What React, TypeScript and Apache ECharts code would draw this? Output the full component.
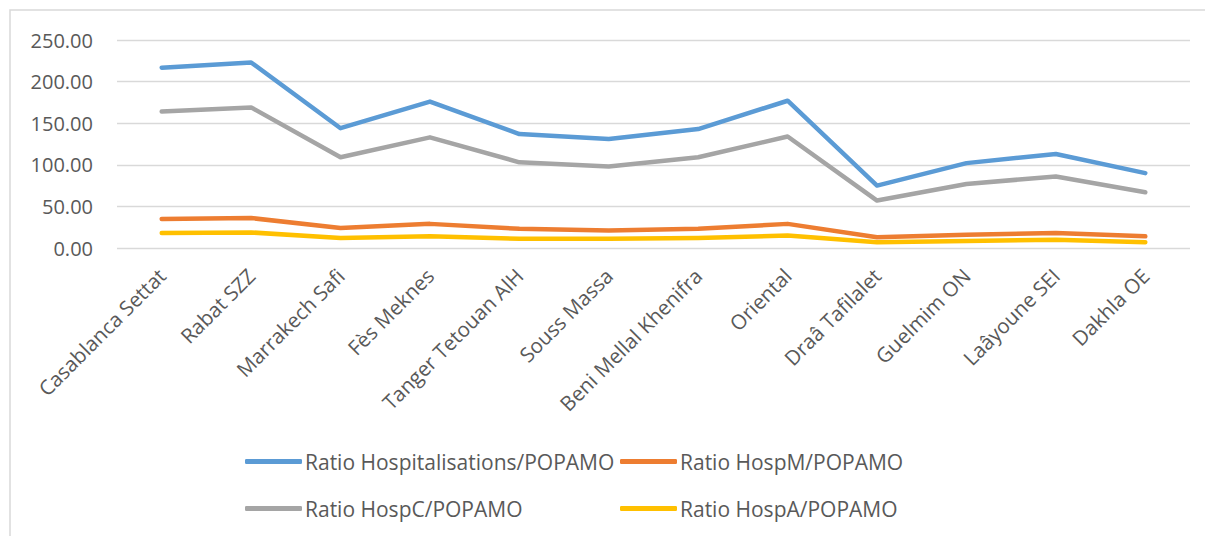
import React, { useEffect, useRef } from "react";
import * as echarts from "echarts";

const categories = [
  "Casablanca Settat",
  "Rabat SZZ",
  "Marrakech Safi",
  "Fès Meknes",
  "Tanger Tetouan AlH",
  "Souss Massa",
  "Beni Mellal Khenifra",
  "Oriental",
  "Draâ Tafilalet",
  "Guelmim ON",
  "Laâyoune SEI",
  "Dakhla OE",
];

const ratioHosp = [216.7, 223, 144, 176, 137, 131, 143, 177, 75, 102, 113, 90];
const ratioHospM = [35, 36, 24, 29, 23, 21, 23, 29, 13, 16, 18, 14];
const ratioHospC = [164, 169, 109, 133, 103, 98, 109, 134, 57, 77, 86, 67];
const ratioHospA = [18, 18.7, 12, 14, 11, 11, 12, 15, 7, 8.5, 10, 7];

const seriesNames = [
  "Ratio Hospitalisations/POPAMO",
  "Ratio HospM/POPAMO",
  "Ratio HospC/POPAMO",
  "Ratio HospA/POPAMO",
];
const seriesColors = ["#5B9BD5", "#ED7D31", "#A5A5A5", "#FFC000"];
const seriesData = [ratioHosp, ratioHospM, ratioHospC, ratioHospA];

const yTicks = { min: 0, max: 250, interval: 50 };

const FONT = "'Open Sans', 'Noto Sans', sans-serif";

export default function App() {
  const ref = useRef<HTMLDivElement>(null);
  useEffect(() => {
    document.body.style.margin = "0";
    const chart = echarts.init(ref.current!, undefined, { renderer: "svg" });
    const legendPos = [
      { left: 245, top: 451 },
      { left: 620, top: 451 },
      { left: 245, top: 498 },
      { left: 620, top: 498 },
    ];
    chart.setOption({
      animation: false,
      backgroundColor: "#ffffff",
      textStyle: { fontFamily: FONT },
      grid: { left: 117, right: 15, top: 40, bottom: 288, containLabel: false },
      legend: seriesNames.map((n, i) => ({
        data: [n],
        left: legendPos[i].left,
        top: legendPos[i].top,
        itemWidth: 57,
        itemHeight: 5,
        itemGap: 4,
        icon: "roundRect",
        textStyle: { fontFamily: FONT, fontSize: 21, color: "#595959", padding: [0, 0, 0, -2] },
        padding: 0,
      })),
      xAxis: {
        type: "category",
        data: categories,
        boundaryGap: true,
        axisLine: { show: false },
        axisTick: { show: false },
        axisLabel: {
          rotate: 45,
          interval: 0,
          margin: 24,
          fontSize: 20.5,
          color: "#595959",
          fontFamily: FONT,
        },
      },
      yAxis: {
        type: "value",
        min: yTicks.min,
        max: yTicks.max,
        interval: yTicks.interval,
        axisLine: { show: false },
        axisTick: { show: false },
        splitLine: { lineStyle: { color: "#d9d9d9", width: 1.3 } },
        axisLabel: {
          margin: 24,
          fontSize: 20,
          color: "#595959",
          fontFamily: FONT,
          formatter: (v: number) => v.toFixed(2),
        },
      },
      graphic: [
        {
          type: "rect",
          shape: { x: 10, y: 10, width: 1300, height: 700 },
          style: { fill: "none", stroke: "#d9d9d9", lineWidth: 1.5 },
          silent: true,
          z: -1,
        },
      ],
      series: seriesNames.map((n, i) => ({
        name: n,
        type: "line",
        data: seriesData[i],
        showSymbol: false,
        symbol: "none",
        color: seriesColors[i],
        lineStyle: { width: 4.5, color: seriesColors[i], cap: "round", join: "round" },
        z: i === 3 ? 3 : 2,
      })),
    });
    return () => chart.dispose();
  }, []);
  return <div ref={ref} style={{ width: 1205, height: 536 }} />;
}
